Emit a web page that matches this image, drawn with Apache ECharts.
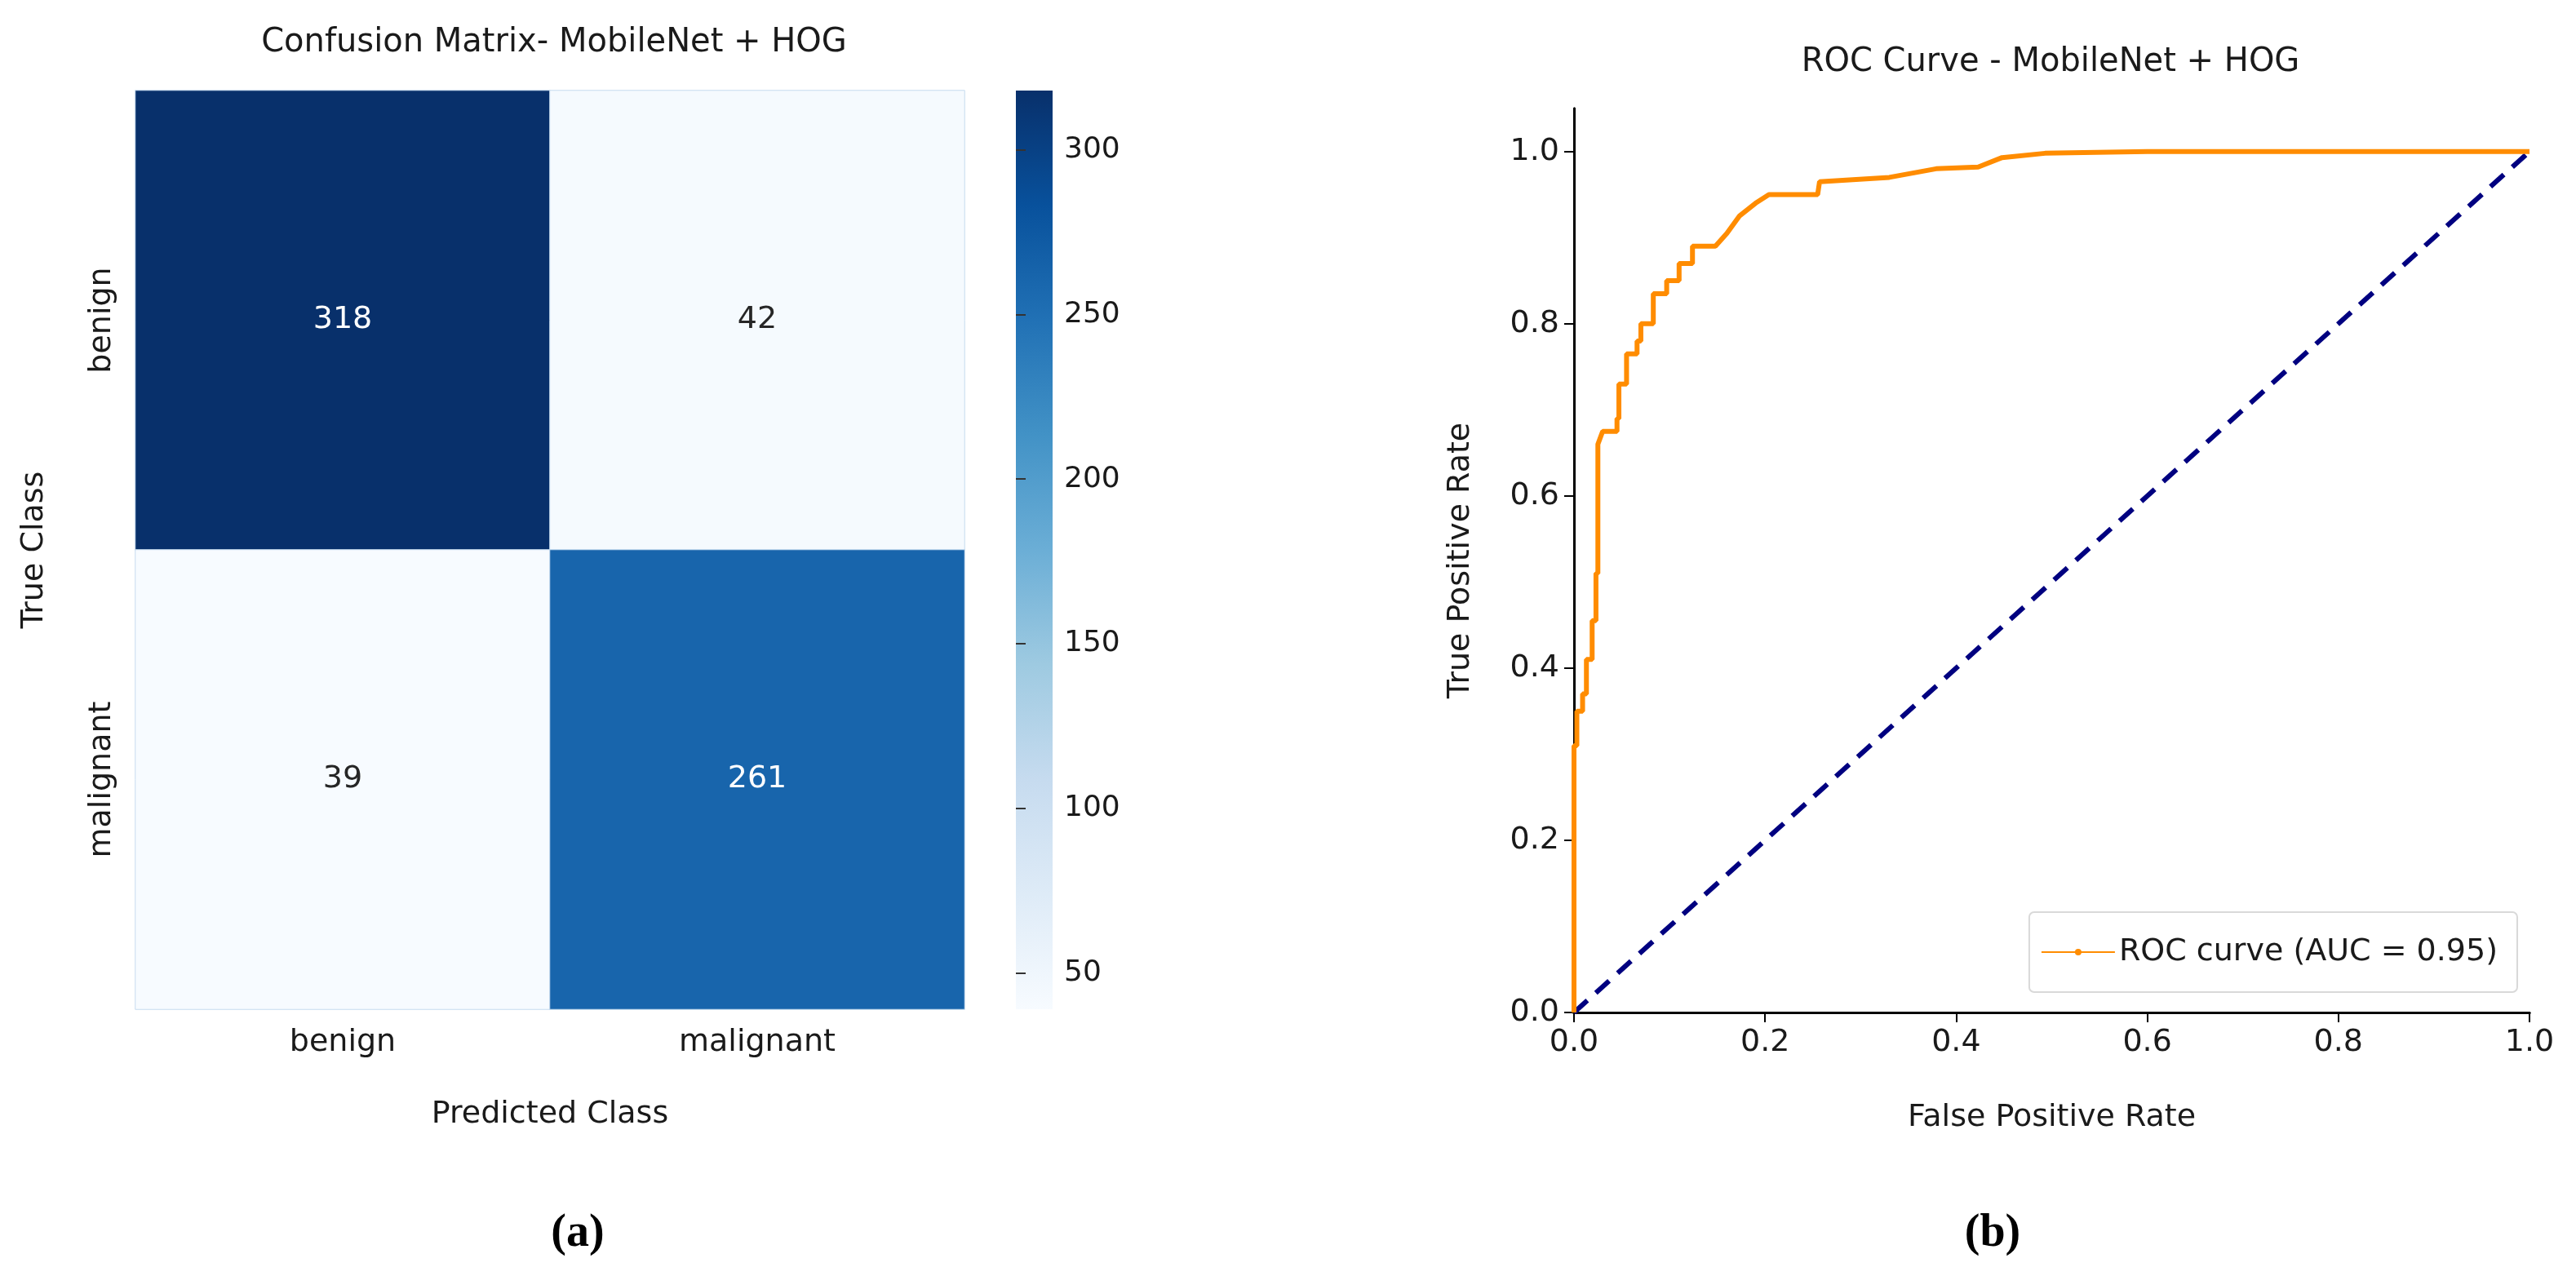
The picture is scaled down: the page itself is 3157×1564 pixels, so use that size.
<!DOCTYPE html>
<html>
<head>
<meta charset="utf-8">
<script src="https://cdn.jsdelivr.net/npm/echarts@6/dist/echarts.min.js"></script>
<style>
html, body { margin: 0; padding: 0; background: #fff; }
#main { width: 3157px; height: 1564px; }
</style>
</head>
<body>
<div id="main"></div>
<script>
// confusion matrix
var classes = ['benign', 'malignant'];
var matrix = [[318, 42], [39, 261]]; // rows: true, cols: predicted
var cbTicks = [50, 100, 150, 200, 250, 300];
var cbMin = 39, cbMax = 318;

// roc curve
var fpr = [0, 0, 0.003, 0.003, 0.009, 0.009, 0.013, 0.013, 0.019, 0.019, 0.023, 0.023, 0.025, 0.025,
    0.03, 0.042, 0.045, 0.045, 0.047, 0.047, 0.055, 0.055, 0.066, 0.066, 0.070, 0.070, 0.083, 0.083,
    0.097, 0.097, 0.11, 0.11, 0.124, 0.124, 0.148, 0.16, 0.173, 0.19, 0.204, 0.255, 0.257, 0.33,
    0.379, 0.423, 0.448, 0.493, 0.6, 1.0];
var tpr = [0, 0.31, 0.31, 0.35, 0.35, 0.37, 0.37, 0.41, 0.41, 0.455, 0.455, 0.51, 0.51, 0.66,
    0.675, 0.675, 0.675, 0.69, 0.69, 0.73, 0.73, 0.765, 0.765, 0.78, 0.78, 0.80, 0.80, 0.835,
    0.835, 0.85, 0.85, 0.87, 0.87, 0.89, 0.89, 0.905, 0.925, 0.94, 0.95, 0.95, 0.965, 0.97,
    0.98, 0.982, 0.993, 0.998, 1.0, 1.0];
var chance = [[0, 0], [1, 1]];
var aucText = 'ROC curve (AUC = 0.95)';

var blues = ['#f7fbff', '#deebf7', '#c6dbef', '#9ecae1', '#6baed6', '#4292c6', '#2171b5', '#08519c', '#08306b'];
var font = 'DejaVu Sans';

var cells = [];
for (var i = 0; i < matrix.length; i++) {
    for (var j = 0; j < matrix[i].length; j++) {
        cells.push({
            value: [j, i, matrix[i][j]],
            label: { color: matrix[i][j] > 180 ? '#ffffff' : '#262626' }
        });
    }
}
var roc = fpr.map(function (x, k) { return [x, tpr[k]]; });

var gradStops = blues.map(function (c, k) { return { offset: 1 - k / (blues.length - 1), color: c }; });

var myChart = echarts.init(document.getElementById('main'));
var option = {
    backgroundColor: '#fff',
    textStyle: { fontFamily: font },
    title: [
        { text: 'Confusion Matrix- MobileNet + HOG', left: 674, top: 28, textAlign: 'center',
          textStyle: { fontFamily: font, fontSize: 40, fontWeight: 'normal', color: '#1a1a1a' } },
        { text: 'ROC Curve - MobileNet + HOG', left: 2508, top: 52, textAlign: 'center',
          textStyle: { fontFamily: font, fontSize: 40, fontWeight: 'normal', color: '#1a1a1a' } },
        { text: '({b|a})', left: 703, top: 1480, textAlign: 'center',
          textStyle: { fontFamily: 'Liberation Serif', fontSize: 56, color: '#000', rich: { b: { fontFamily: 'Liberation Serif', fontSize: 56, fontWeight: 'bold' } } } },
        { text: '({b|b})', left: 2437, top: 1480, textAlign: 'center',
          textStyle: { fontFamily: 'Liberation Serif', fontSize: 56, color: '#000', rich: { b: { fontFamily: 'Liberation Serif', fontSize: 56, fontWeight: 'bold' } } } }
    ],
    grid: [
        { left: 166, top: 111, width: 1016, height: 1126 },
        { left: 1245, top: 111, width: 45, height: 1126, show: true, borderWidth: 0,
          backgroundColor: new echarts.graphic.LinearGradient(0, 0, 0, 1, gradStops) },
        { left: 1929, top: 133, width: 1171, height: 1108 }
    ],
    visualMap: {
        show: false, min: cbMin, max: cbMax, seriesIndex: 0, dimension: 2,
        inRange: { color: blues }
    },
    xAxis: [
        { gridIndex: 0, type: 'category', data: classes, name: 'Predicted Class', nameLocation: 'middle', nameGap: 110,
          nameTextStyle: { fontSize: 38, color: '#1a1a1a' },
          axisLine: { show: false }, axisTick: { alignWithLabel: true, length: 12, lineStyle: { color: '#333', width: 2 } },
          axisLabel: { fontSize: 38, color: '#1a1a1a', margin: 22 }, splitLine: { show: false } },
        { gridIndex: 1, type: 'value', show: false, min: 0, max: 1 },
        { gridIndex: 2, type: 'value', min: 0, max: 1, interval: 0.2, name: 'False Positive Rate',
          nameLocation: 'middle', nameGap: 110, nameTextStyle: { fontSize: 38, color: '#1a1a1a' },
          axisLine: { onZero: false, lineStyle: { color: '#000', width: 3 } },
          axisTick: { length: 12, lineStyle: { color: '#000', width: 2 } },
          axisLabel: { fontSize: 38, color: '#1a1a1a', margin: 18, formatter: function (v) { return v.toFixed(1); } },
          splitLine: { show: false } },
        { gridIndex: 2, type: 'value', min: 0, max: 1, position: 'top', show: true,
          axisLine: { lineStyle: { color: '#000', width: 3 } }, axisTick: { show: false }, axisLabel: { show: false }, splitLine: { show: false } }
    ],
    yAxis: [
        { gridIndex: 0, type: 'category', data: classes, inverse: true, name: 'True Class', nameLocation: 'middle', nameGap: 105,
          nameRotate: 90, nameTextStyle: { fontSize: 38, color: '#1a1a1a' },
          axisLine: { show: false }, axisTick: { alignWithLabel: true, length: 12, lineStyle: { color: '#333', width: 2 } },
          axisLabel: { fontSize: 38, color: '#1a1a1a', rotate: 90, margin: 22 }, splitLine: { show: false } },
        { gridIndex: 1, type: 'value', min: cbMin, max: cbMax, position: 'right',
          axisLine: { show: false }, splitLine: { show: false },
          axisTick: { show: true, length: 12, customValues: cbTicks, lineStyle: { color: '#333', width: 2 } },
          axisLabel: { fontSize: 36, color: '#1a1a1a', margin: 14, customValues: cbTicks } },
        { gridIndex: 2, type: 'value', min: 0, max: 1.05, name: 'True Positive Rate', nameLocation: 'middle',
          nameGap: 120, nameRotate: 90, nameTextStyle: { fontSize: 38, color: '#1a1a1a' },
          axisLine: { onZero: false, lineStyle: { color: '#000', width: 3 } },
          axisTick: { length: 12, customValues: [0, 0.2, 0.4, 0.6, 0.8, 1.0], lineStyle: { color: '#000', width: 2 } },
          axisLabel: { fontSize: 38, color: '#1a1a1a', margin: 18, customValues: [0, 0.2, 0.4, 0.6, 0.8, 1.0],
                       formatter: function (v) { return v.toFixed(1); } },
          splitLine: { show: false } },
        { gridIndex: 2, type: 'value', min: 0, max: 1.05, position: 'right',
          axisLine: { show: true, lineStyle: { color: '#000', width: 3 } }, axisTick: { show: false }, axisLabel: { show: false }, splitLine: { show: false } }
    ],
    legend: {
        data: [aucText], right: 72, top: 1118, orient: 'vertical',
        itemWidth: 90, itemHeight: 10, itemGap: 10, padding: [30, 24, 30, 14],
        borderColor: '#d9d9d9', borderWidth: 2, borderRadius: 6, backgroundColor: '#fff',
        textStyle: { fontSize: 38, color: '#1a1a1a' }
    },
    series: [
        { type: 'heatmap', xAxisIndex: 0, yAxisIndex: 0, data: cells,
          itemStyle: { borderColor: '#c6dbef', borderWidth: 1 },
          label: { show: true, fontSize: 38, fontFamily: font, formatter: function (p) { return p.value[2]; } },
          emphasis: { disabled: true } },
        { name: aucText, type: 'line', xAxisIndex: 2, yAxisIndex: 2, data: roc, symbol: 'none',
          lineStyle: { color: '#ff8c00', width: 6 }, itemStyle: { color: '#ff8c00' }, z: 3 },
        { type: 'line', xAxisIndex: 2, yAxisIndex: 2, data: chance, symbol: 'none',
          lineStyle: { color: '#000080', width: 6, type: [22, 14] }, z: 2 }
    ]
};
myChart.setOption(option);
</script>
</body>
</html>
